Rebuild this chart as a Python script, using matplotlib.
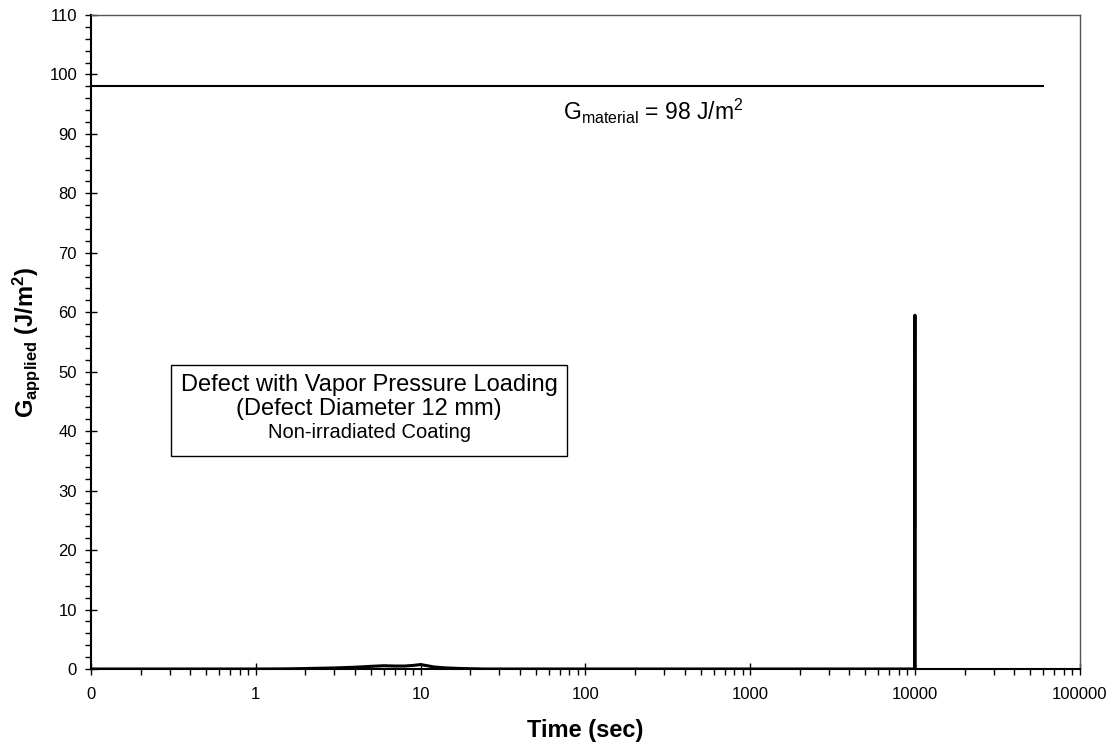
import matplotlib.pyplot as plt
from matplotlib.ticker import FixedLocator, FuncFormatter, LogLocator, MultipleLocator

plt.rcParams["font.family"] = ["Liberation Sans", "DejaVu Sans"]
plt.rcParams["mathtext.fontset"] = "custom"
plt.rcParams["mathtext.rm"] = "Liberation Sans"
plt.rcParams["mathtext.it"] = "Liberation Sans:italic"
plt.rcParams["mathtext.bf"] = "Liberation Sans:bold"

# G_applied history (time in sec, G in J/m^2)
time_s = [0.1, 0.5, 1.0, 1.5, 2.0, 3.0, 4.0, 5.0, 6.0, 7.0, 8.0, 9.0, 10.0,
          11.0, 12.0, 14.0, 17.0, 20.0, 25.0, 100.0, 1000.0, 9950.0,
          10000.0, 10010.0, 10020.0]
g_applied = [0.0, 0.0, 0.0, 0.02, 0.08, 0.18, 0.3, 0.45, 0.55, 0.5, 0.5,
             0.6, 0.75, 0.55, 0.35, 0.2, 0.1, 0.05, 0.0, 0.0, 0.0, 0.0,
             59.5, 30.0, 0.0]

# material toughness line
g_material = 98.0
g_mat_time = [0.1, 60000.0]

fig = plt.figure(figsize=(11.16, 7.46), dpi=100)
ax = fig.add_axes([0.0815, 0.1032, 0.886, 0.8767])

ax.plot(time_s, g_applied, color="black", linewidth=2.2)
ax.plot(g_mat_time, [g_material, g_material], color="black", linewidth=1.5)

ax.set_xscale("log")
ax.set_xlim(0.1, 100000)
ax.set_ylim(0, 110)

ax.xaxis.set_major_locator(FixedLocator([0.1, 1, 10, 100, 1000, 10000, 100000]))
ax.xaxis.set_minor_locator(LogLocator(base=10, subs=range(2, 10)))
ax.xaxis.set_major_formatter(FuncFormatter(lambda v, p: "0" if v < 0.5 else f"{v:.0f}"))
ax.xaxis.set_minor_formatter(FuncFormatter(lambda v, p: ""))
ax.yaxis.set_major_locator(MultipleLocator(10))
ax.yaxis.set_minor_locator(MultipleLocator(2))

ax.tick_params(which="major", direction="inout", length=8, width=1.0, labelsize=12, pad=6)
ax.tick_params(which="minor", direction="out", length=4, width=1.0)
ax.tick_params(axis="x", which="major", pad=9)

for side in ["left", "bottom"]:
    ax.spines[side].set_linewidth(1.5)
for side in ["top", "right"]:
    ax.spines[side].set_linewidth(1.0)
    ax.spines[side].set_color("#555555")

ax.set_xlabel("Time (sec)", fontsize=17, fontweight="bold", labelpad=12)
ax.set_ylabel(r"$\mathbf{G_{applied}}$ (J/m$\mathbf{^2}$)", fontsize=17,
              fontweight="bold", labelpad=5)

ax.text(0.477, 0.839, r"G$_{\mathregular{material}}$ = 98 J/m$^{\mathregular{2}}$",
        transform=ax.transAxes, fontsize=16.5, ha="left", va="baseline")

box_x = 0.0813
box_w = 0.4
ax.add_patch(plt.Rectangle((box_x, 0.325), box_w, 0.14, transform=ax.transAxes,
                           facecolor="white", edgecolor="black", linewidth=1.0, zorder=4))
ax.text(box_x + box_w / 2, 0.435, "Defect with Vapor Pressure Loading",
        transform=ax.transAxes, fontsize=17, ha="center", va="center", zorder=5)
ax.text(box_x + box_w / 2, 0.398, "(Defect Diameter 12 mm)",
        transform=ax.transAxes, fontsize=17, ha="center", va="center", zorder=5)
ax.text(box_x + box_w / 2, 0.362, "Non-irradiated Coating",
        transform=ax.transAxes, fontsize=14.5, ha="center", va="center", zorder=5)

fig.savefig("out.png", dpi=100)
